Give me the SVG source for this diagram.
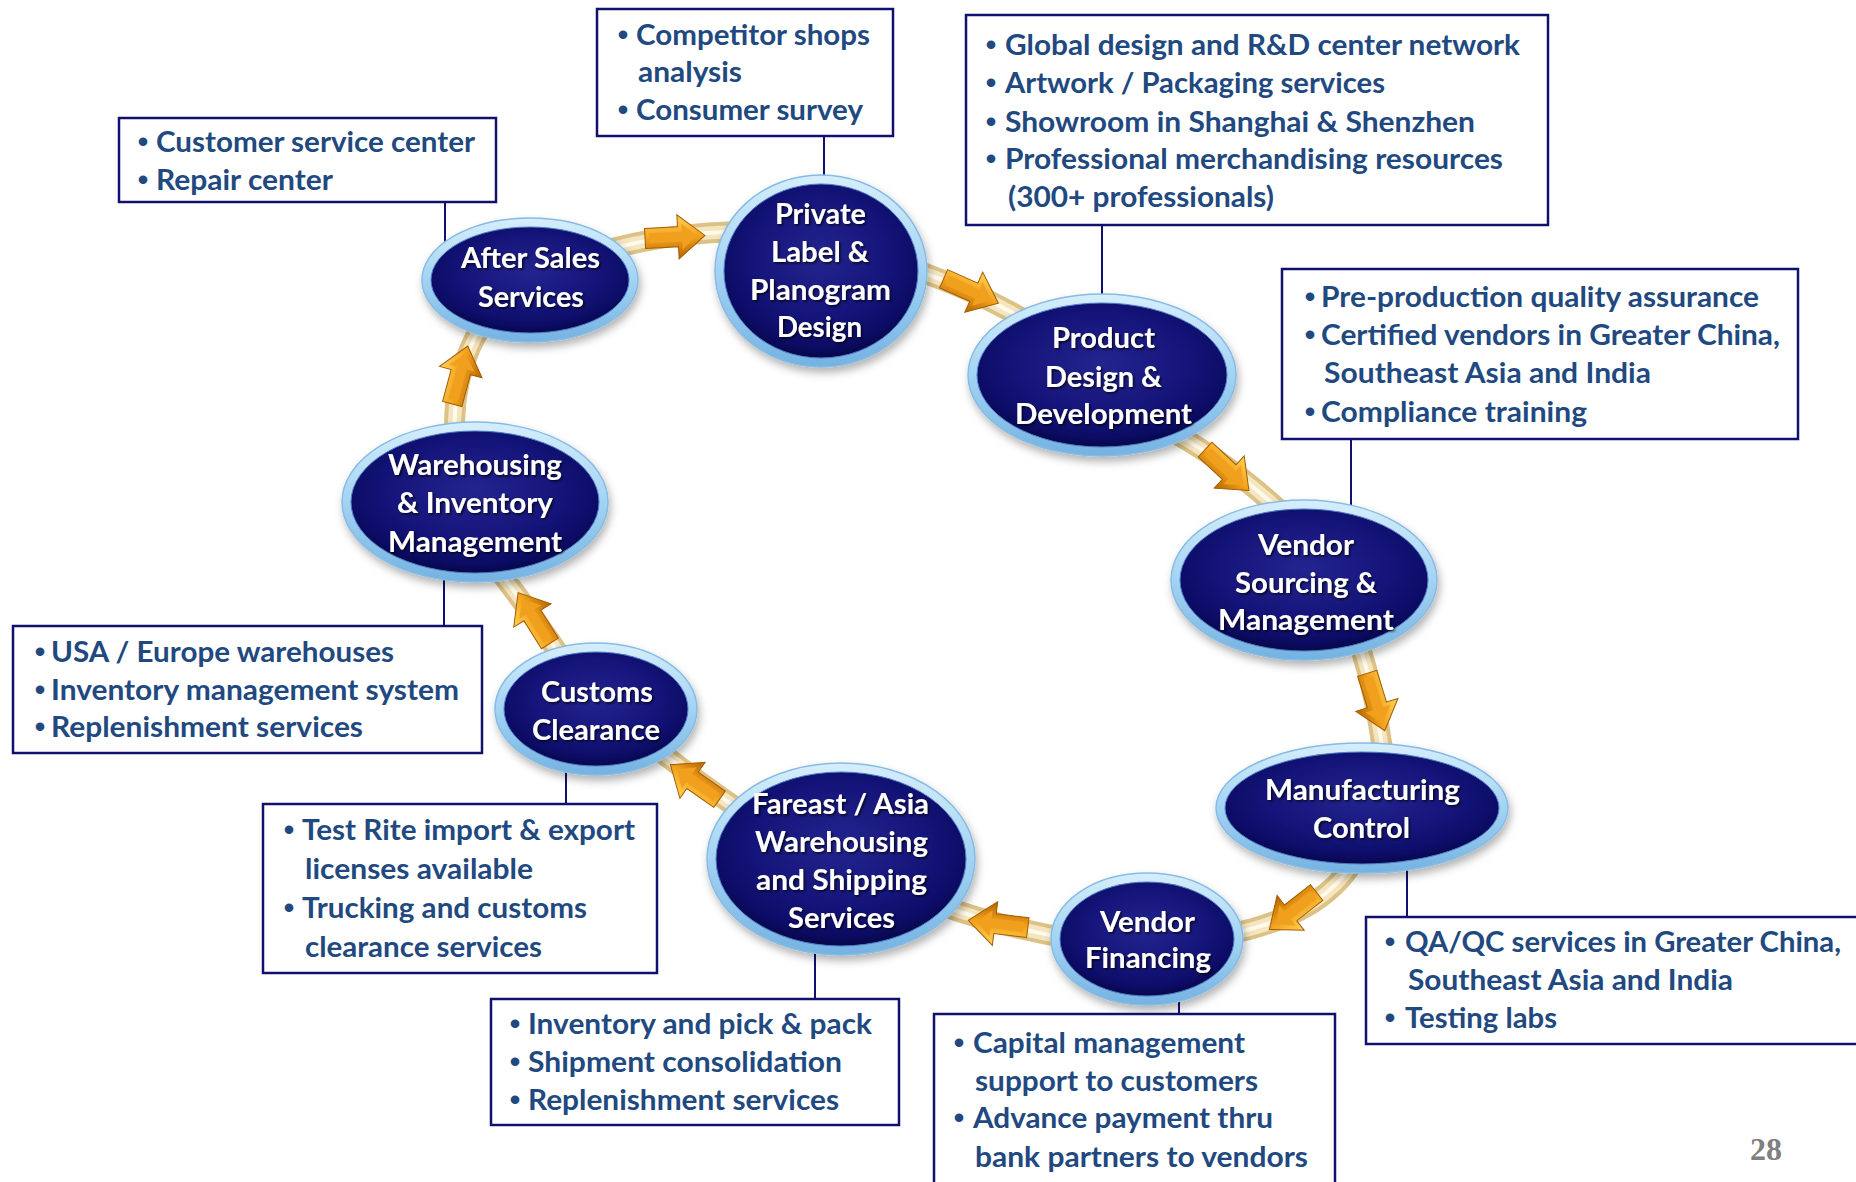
<svg xmlns="http://www.w3.org/2000/svg" xmlns:xlink="http://www.w3.org/1999/xlink" width="1856" height="1182" viewBox="0 0 1856 1182">
<style>
.box{fill:#fff;stroke:#10106E;stroke-width:2.5}
.bt{font-family:Lato,"Liberation Sans",sans-serif;font-weight:700;font-size:28px;fill:#21497F}
.bul{font-family:"Liberation Sans",sans-serif;font-weight:700;font-size:30px;fill:#21497F;text-anchor:middle}
.nt{font-family:Lato,"Liberation Sans",sans-serif;font-weight:700;font-size:28px;fill:#fff}
.conn{stroke:#10106E;stroke-width:2;fill:none}
.t1{fill:none;stroke:#DCC287;stroke-width:21}
.t2{fill:none;stroke:#F5E6C0;stroke-width:13}
.t3{fill:none;stroke:#FFFAEC;stroke-width:4}
.ring{fill:url(#ring);stroke:#86BCE4;stroke-width:1.5}
.core{fill:url(#navy);stroke:#4E7CC8;stroke-width:1}
.pg{font-family:"Liberation Serif",serif;font-weight:700;font-size:32px;fill:#808080}
</style>
<defs>
<radialGradient id="navy" cx="50%" cy="42%" r="58%">
<stop offset="0" stop-color="#24248F"/>
<stop offset="0.6" stop-color="#14147A"/>
<stop offset="0.88" stop-color="#0C0C66"/>
<stop offset="1" stop-color="#070748"/>
</radialGradient>
<linearGradient id="ring" x1="0" y1="0" x2="0" y2="1">
<stop offset="0" stop-color="#D6EEFC"/>
<stop offset="0.5" stop-color="#A3D3F3"/>
<stop offset="1" stop-color="#74B2E2"/>
</linearGradient>
<linearGradient id="arrowg" x1="0" y1="0" x2="0" y2="1">
<stop offset="0" stop-color="#FFD357"/>
<stop offset="0.5" stop-color="#F3A21E"/>
<stop offset="1" stop-color="#B46400"/>
</linearGradient>
<filter id="shadow" x="-20%" y="-20%" width="140%" height="150%">
<feDropShadow dx="2" dy="5" stdDeviation="4" flood-color="#000" flood-opacity="0.3"/>
</filter>
<filter id="tshadow" x="-10%" y="-20%" width="120%" height="150%">
<feDropShadow dx="1.5" dy="1.5" stdDeviation="0.8" flood-color="#000" flood-opacity="0.75"/>
</filter>
<g id="arw">
<polygon points="-30,-10 3,-10 3,-22 30,0 3,22 3,10 -30,10" fill="url(#arrowg)" stroke="#A35C00" stroke-width="1"/>
<polygon points="-26,-5 7,-5 7,-13 22,0 7,13 7,5 -26,5" fill="#F0A01C"/>
</g>
</defs>

<rect x="0" y="0" width="1856" height="1182" fill="#fff"/>

<g id="connectors">
<path class="t1" d="M600,252 Q676,230 760,232"/>
<path class="t2" d="M600,252 Q676,230 760,232"/>
<path class="t3" d="M600,252 Q676,230 760,232"/>
<path class="t1" d="M890,262 Q975,287 1050,335"/>
<path class="t2" d="M890,262 Q975,287 1050,335"/>
<path class="t3" d="M890,262 Q975,287 1050,335"/>
<path class="t1" d="M1160,425 Q1230,462 1290,520"/>
<path class="t2" d="M1160,425 Q1230,462 1290,520"/>
<path class="t3" d="M1160,425 Q1230,462 1290,520"/>
<path class="t1" d="M1350,620 Q1375,680 1385,770"/>
<path class="t2" d="M1350,620 Q1375,680 1385,770"/>
<path class="t3" d="M1350,620 Q1375,680 1385,770"/>
<path class="t1" d="M1360,850 Q1330,915 1225,935"/>
<path class="t2" d="M1360,850 Q1330,915 1225,935"/>
<path class="t3" d="M1360,850 Q1330,915 1225,935"/>
<path class="t1" d="M1080,940 Q1010,930 940,905"/>
<path class="t2" d="M1080,940 Q1010,930 940,905"/>
<path class="t3" d="M1080,940 Q1010,930 940,905"/>
<path class="t1" d="M770,830 Q700,785 640,735"/>
<path class="t2" d="M770,830 Q700,785 640,735"/>
<path class="t3" d="M770,830 Q700,785 640,735"/>
<path class="t1" d="M570,670 Q530,610 490,560"/>
<path class="t2" d="M570,670 Q530,610 490,560"/>
<path class="t3" d="M570,670 Q530,610 490,560"/>
<path class="t1" d="M455,440 Q450,360 500,300"/>
<path class="t2" d="M455,440 Q450,360 500,300"/>
<path class="t3" d="M455,440 Q450,360 500,300"/>

<use xlink:href="#arw" href="#arw" transform="translate(675,237) rotate(-3)"/>
<use xlink:href="#arw" href="#arw" transform="translate(971,291) rotate(24)"/>
<use xlink:href="#arw" href="#arw" transform="translate(1227,470) rotate(43)"/>
<use xlink:href="#arw" href="#arw" transform="translate(1376,702) rotate(73)"/>
<use xlink:href="#arw" href="#arw" transform="translate(1293,911) rotate(142)"/>
<use xlink:href="#arw" href="#arw" transform="translate(998,924) rotate(187)"/>
<use xlink:href="#arw" href="#arw" transform="translate(695,782) rotate(215)"/>
<use xlink:href="#arw" href="#arw" transform="translate(534,618) rotate(238)"/>
<use xlink:href="#arw" href="#arw" transform="translate(460,375) rotate(-75)"/>

<line class="conn" x1="445" y1="202" x2="445" y2="245"/>
<line class="conn" x1="824" y1="136" x2="824" y2="190"/>
<line class="conn" x1="1102" y1="226" x2="1102" y2="305"/>
<line class="conn" x1="1351" y1="439" x2="1351" y2="515"/>
<line class="conn" x1="444" y1="565" x2="444" y2="626"/>
<line class="conn" x1="566" y1="760" x2="566" y2="804"/>
<line class="conn" x1="815" y1="940" x2="815" y2="999"/>
<line class="conn" x1="1179" y1="990" x2="1179" y2="1014"/>
<line class="conn" x1="1407" y1="855" x2="1407" y2="917"/>
</g>

<g id="node-after-sales">
<ellipse class="ring" cx="530" cy="280" rx="108" ry="62" filter="url(#shadow)"/>
<ellipse class="core" cx="530" cy="280" rx="99" ry="53"/>
<g filter="url(#tshadow)">
<text class="nt" x="461" y="268" textLength="139" lengthAdjust="spacingAndGlyphs">After Sales</text>
<text class="nt" x="478" y="307" textLength="106" lengthAdjust="spacingAndGlyphs">Services</text>
</g>
</g>

<g id="node-private-label">
<ellipse class="ring" cx="821" cy="271" rx="106" ry="96" filter="url(#shadow)"/>
<ellipse class="core" cx="821" cy="271" rx="97" ry="87"/>
<g filter="url(#tshadow)">
<text class="nt" x="775" y="224" textLength="91" lengthAdjust="spacingAndGlyphs">Private</text>
<text class="nt" x="771" y="262" textLength="98" lengthAdjust="spacingAndGlyphs">Label &amp;</text>
<text class="nt" x="750" y="300" textLength="141" lengthAdjust="spacingAndGlyphs">Planogram</text>
<text class="nt" x="777" y="337" textLength="85" lengthAdjust="spacingAndGlyphs">Design</text>
</g>
</g>

<g id="node-product-design">
<ellipse class="ring" cx="1102" cy="375" rx="134" ry="81" filter="url(#shadow)"/>
<ellipse class="core" cx="1102" cy="375" rx="125" ry="72"/>
<g filter="url(#tshadow)">
<text class="nt" x="1052" y="348" textLength="103" lengthAdjust="spacingAndGlyphs">Product</text>
<text class="nt" x="1045" y="387" textLength="117" lengthAdjust="spacingAndGlyphs">Design &amp;</text>
<text class="nt" x="1015" y="424" textLength="177" lengthAdjust="spacingAndGlyphs">Development</text>
</g>
</g>

<g id="node-vendor-sourcing">
<ellipse class="ring" cx="1304" cy="580" rx="133" ry="80" filter="url(#shadow)"/>
<ellipse class="core" cx="1304" cy="580" rx="124" ry="71"/>
<g filter="url(#tshadow)">
<text class="nt" x="1258" y="555" textLength="96" lengthAdjust="spacingAndGlyphs">Vendor</text>
<text class="nt" x="1235" y="593" textLength="142" lengthAdjust="spacingAndGlyphs">Sourcing &amp;</text>
<text class="nt" x="1218" y="630" textLength="176" lengthAdjust="spacingAndGlyphs">Management</text>
</g>
</g>

<g id="node-manufacturing">
<ellipse class="ring" cx="1362" cy="808" rx="146" ry="65" filter="url(#shadow)"/>
<ellipse class="core" cx="1362" cy="808" rx="137" ry="56"/>
<g filter="url(#tshadow)">
<text class="nt" x="1265" y="800" textLength="195" lengthAdjust="spacingAndGlyphs">Manufacturing</text>
<text class="nt" x="1313" y="838" textLength="97" lengthAdjust="spacingAndGlyphs">Control</text>
</g>
</g>

<g id="node-vendor-financing">
<ellipse class="ring" cx="1147" cy="939" rx="96" ry="66" filter="url(#shadow)"/>
<ellipse class="core" cx="1147" cy="939" rx="87" ry="57"/>
<g filter="url(#tshadow)">
<text class="nt" x="1100" y="932" textLength="95" lengthAdjust="spacingAndGlyphs">Vendor</text>
<text class="nt" x="1085" y="968" textLength="126" lengthAdjust="spacingAndGlyphs">Financing</text>
</g>
</g>

<g id="node-fareast">
<ellipse class="ring" cx="841" cy="859" rx="134" ry="96" filter="url(#shadow)"/>
<ellipse class="core" cx="841" cy="859" rx="125" ry="87"/>
<g filter="url(#tshadow)">
<text class="nt" x="752" y="814" textLength="177" lengthAdjust="spacingAndGlyphs">Fareast / Asia</text>
<text class="nt" x="755" y="852" textLength="173" lengthAdjust="spacingAndGlyphs">Warehousing</text>
<text class="nt" x="756" y="890" textLength="171" lengthAdjust="spacingAndGlyphs">and Shipping</text>
<text class="nt" x="788" y="928" textLength="107" lengthAdjust="spacingAndGlyphs">Services</text>
</g>
</g>

<g id="node-customs">
<ellipse class="ring" cx="596" cy="709" rx="101" ry="66" filter="url(#shadow)"/>
<ellipse class="core" cx="596" cy="709" rx="92" ry="57"/>
<g filter="url(#tshadow)">
<text class="nt" x="541" y="702" textLength="112" lengthAdjust="spacingAndGlyphs">Customs</text>
<text class="nt" x="532" y="740" textLength="128" lengthAdjust="spacingAndGlyphs">Clearance</text>
</g>
</g>

<g id="node-warehousing">
<ellipse class="ring" cx="475" cy="502" rx="133" ry="80" filter="url(#shadow)"/>
<ellipse class="core" cx="475" cy="502" rx="124" ry="71"/>
<g filter="url(#tshadow)">
<text class="nt" x="388" y="475" textLength="174" lengthAdjust="spacingAndGlyphs">Warehousing</text>
<text class="nt" x="397" y="513" textLength="156" lengthAdjust="spacingAndGlyphs">&amp; Inventory</text>
<text class="nt" x="388" y="552" textLength="174" lengthAdjust="spacingAndGlyphs">Management</text>
</g>
</g>

<g id="box-after-sales">
<rect class="box" x="119" y="118" width="377" height="84"/>
<text class="bul" x="143" y="152">•</text>
<text class="bt" x="156" y="152" textLength="319" lengthAdjust="spacingAndGlyphs">Customer service center</text>
<text class="bul" x="143" y="190">•</text>
<text class="bt" x="156" y="190" textLength="177" lengthAdjust="spacingAndGlyphs">Repair center</text>
</g>

<g id="box-private-label">
<rect class="box" x="597" y="9" width="296" height="127"/>
<text class="bul" x="623" y="45">•</text>
<text class="bt" x="636" y="45" textLength="234" lengthAdjust="spacingAndGlyphs">Competitor shops</text>
<text class="bt" x="638" y="82" textLength="104" lengthAdjust="spacingAndGlyphs">analysis</text>
<text class="bul" x="623" y="120">•</text>
<text class="bt" x="636" y="120" textLength="227" lengthAdjust="spacingAndGlyphs">Consumer survey</text>
</g>

<g id="box-product-design">
<rect class="box" x="966" y="15" width="582" height="210"/>
<text class="bul" x="991" y="55">•</text>
<text class="bt" x="1005" y="55" textLength="515" lengthAdjust="spacingAndGlyphs">Global design and R&amp;D center network</text>
<text class="bul" x="991" y="93">•</text>
<text class="bt" x="1005" y="93" textLength="380" lengthAdjust="spacingAndGlyphs">Artwork / Packaging services</text>
<text class="bul" x="991" y="132">•</text>
<text class="bt" x="1005" y="132" textLength="470" lengthAdjust="spacingAndGlyphs">Showroom in Shanghai &amp; Shenzhen</text>
<text class="bul" x="991" y="169">•</text>
<text class="bt" x="1005" y="169" textLength="498" lengthAdjust="spacingAndGlyphs">Professional merchandising resources</text>
<text class="bt" x="1008" y="207" textLength="266" lengthAdjust="spacingAndGlyphs">(300+ professionals)</text>
</g>

<g id="box-vendor-sourcing">
<rect class="box" x="1282" y="269" width="516" height="170"/>
<text class="bul" x="1310" y="307">•</text>
<text class="bt" x="1321" y="307" textLength="438" lengthAdjust="spacingAndGlyphs">Pre-production quality assurance</text>
<text class="bul" x="1310" y="345">•</text>
<text class="bt" x="1321" y="345" textLength="459" lengthAdjust="spacingAndGlyphs">Certified vendors in Greater China,</text>
<text class="bt" x="1324" y="383" textLength="327" lengthAdjust="spacingAndGlyphs">Southeast Asia and India</text>
<text class="bul" x="1310" y="422">•</text>
<text class="bt" x="1321" y="422" textLength="266" lengthAdjust="spacingAndGlyphs">Compliance training</text>
</g>

<g id="box-warehousing">
<rect class="box" x="13" y="626" width="469" height="127"/>
<text class="bul" x="40" y="662">•</text>
<text class="bt" x="51" y="662" textLength="343" lengthAdjust="spacingAndGlyphs">USA / Europe warehouses</text>
<text class="bul" x="40" y="700">•</text>
<text class="bt" x="51" y="700" textLength="408" lengthAdjust="spacingAndGlyphs">Inventory management system</text>
<text class="bul" x="40" y="737">•</text>
<text class="bt" x="51" y="737" textLength="312" lengthAdjust="spacingAndGlyphs">Replenishment services</text>
</g>

<g id="box-customs">
<rect class="box" x="263" y="804" width="394" height="169"/>
<text class="bul" x="289" y="840">•</text>
<text class="bt" x="302" y="840" textLength="333" lengthAdjust="spacingAndGlyphs">Test Rite import &amp; export</text>
<text class="bt" x="305" y="879" textLength="228" lengthAdjust="spacingAndGlyphs">licenses available</text>
<text class="bul" x="289" y="918">•</text>
<text class="bt" x="302" y="918" textLength="285" lengthAdjust="spacingAndGlyphs">Trucking and customs</text>
<text class="bt" x="305" y="957" textLength="237" lengthAdjust="spacingAndGlyphs">clearance services</text>
</g>

<g id="box-fareast">
<rect class="box" x="491" y="999" width="408" height="126"/>
<text class="bul" x="515" y="1034">•</text>
<text class="bt" x="528" y="1034" textLength="344" lengthAdjust="spacingAndGlyphs">Inventory and pick &amp; pack</text>
<text class="bul" x="515" y="1072">•</text>
<text class="bt" x="528" y="1072" textLength="314" lengthAdjust="spacingAndGlyphs">Shipment consolidation</text>
<text class="bul" x="515" y="1110">•</text>
<text class="bt" x="528" y="1110" textLength="311" lengthAdjust="spacingAndGlyphs">Replenishment services</text>
</g>

<g id="box-vendor-financing">
<rect class="box" x="934" y="1014" width="401" height="200"/>
<text class="bul" x="959" y="1053">•</text>
<text class="bt" x="973" y="1053" textLength="272" lengthAdjust="spacingAndGlyphs">Capital management</text>
<text class="bt" x="975" y="1091" textLength="283" lengthAdjust="spacingAndGlyphs">support to customers</text>
<text class="bul" x="959" y="1128">•</text>
<text class="bt" x="973" y="1128" textLength="300" lengthAdjust="spacingAndGlyphs">Advance payment thru</text>
<text class="bt" x="975" y="1167" textLength="333" lengthAdjust="spacingAndGlyphs">bank partners to vendors</text>
</g>

<g id="box-manufacturing">
<rect class="box" x="1366" y="917" width="520" height="127"/>
<text class="bul" x="1390" y="952">•</text>
<text class="bt" x="1405" y="952" textLength="436" lengthAdjust="spacingAndGlyphs">QA/QC services in Greater China,</text>
<text class="bt" x="1408" y="990" textLength="325" lengthAdjust="spacingAndGlyphs">Southeast Asia and India</text>
<text class="bul" x="1390" y="1028">•</text>
<text class="bt" x="1405" y="1028" textLength="152" lengthAdjust="spacingAndGlyphs">Testing labs</text>
</g>

<text class="pg" x="1750" y="1160">28</text>
</svg>
